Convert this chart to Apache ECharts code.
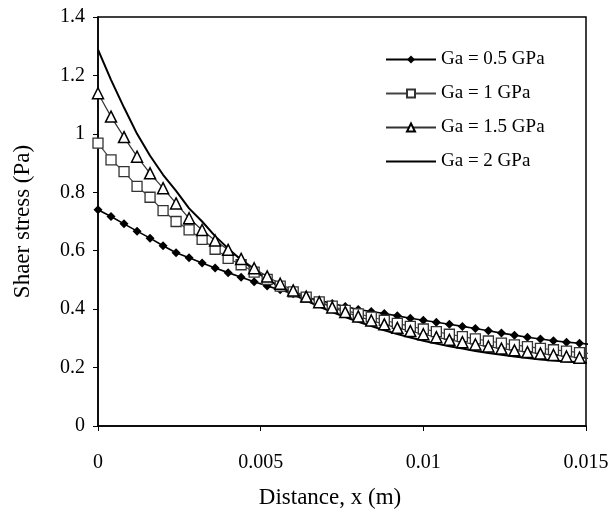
<!DOCTYPE html>
<html>
<head>
<meta charset="utf-8">
<script src="https://cdn.jsdelivr.net/npm/echarts@6/dist/echarts.min.js"></script>
<style>html,body{margin:0;padding:0;background:#fff}#c{width:612px;height:523px}</style>
</head>
<body>
<div id="c"></div>
<script>
var distance = [0, 0.0004, 0.0008, 0.0012, 0.0016, 0.002, 0.0024, 0.0028, 0.0032, 0.0036,
  0.004, 0.0044, 0.0048, 0.0052, 0.0056, 0.006, 0.0064, 0.0068, 0.0072, 0.0076,
  0.008, 0.0084, 0.0088, 0.0092, 0.0096, 0.01, 0.0104, 0.0108, 0.0112, 0.0116,
  0.012, 0.0124, 0.0128, 0.0132, 0.0136, 0.014, 0.0144, 0.0148, 0.0152];

var ga05 = [0.740, 0.717, 0.692, 0.667, 0.643, 0.617, 0.593, 0.576, 0.558, 0.541,
  0.525, 0.509, 0.494, 0.479, 0.466, 0.453, 0.441, 0.430, 0.419, 0.409,
  0.399, 0.392, 0.385, 0.377, 0.369, 0.362, 0.355, 0.348, 0.341, 0.334,
  0.326, 0.318, 0.311, 0.304, 0.298, 0.292, 0.287, 0.283, 0.279];

var ga1 = [0.968, 0.911, 0.871, 0.820, 0.783, 0.737, 0.700, 0.671, 0.639, 0.605,
  0.574, 0.552, 0.527, 0.502, 0.479, 0.459, 0.441, 0.425, 0.410, 0.396,
  0.384, 0.373, 0.362, 0.351, 0.341, 0.332, 0.323, 0.314, 0.306, 0.298,
  0.291, 0.284, 0.278, 0.272, 0.266, 0.261, 0.256, 0.251, 0.247];

var ga15 = [1.139, 1.059, 0.989, 0.922, 0.865, 0.814, 0.762, 0.711, 0.671, 0.635,
  0.603, 0.572, 0.540, 0.512, 0.487, 0.464, 0.443, 0.424, 0.406, 0.390,
  0.375, 0.361, 0.348, 0.336, 0.325, 0.314, 0.304, 0.295, 0.287, 0.279,
  0.272, 0.265, 0.259, 0.253, 0.248, 0.243, 0.238, 0.234, 0.230];

var ga2 = [1.288, 1.185, 1.090, 1.000, 0.925, 0.860, 0.805, 0.745, 0.700, 0.650,
  0.608, 0.568, 0.535, 0.503, 0.475, 0.451, 0.429, 0.409, 0.390, 0.373,
  0.357, 0.342, 0.328, 0.315, 0.303, 0.292, 0.282, 0.273, 0.265, 0.257,
  0.250, 0.244, 0.238, 0.233, 0.228, 0.224, 0.221, 0.218, 0.215];

var seriesNames = ['Ga = 0.5 GPa', 'Ga = 1 GPa', 'Ga = 1.5 GPa', 'Ga = 2 GPa'];
var xTicks = [0, 0.005, 0.01, 0.015];

function pairs(ys) { return distance.map(function (x, i) { return [x, ys[i]]; }); }

var font = '"Liberation Serif", "Times New Roman", serif';
var chart = echarts.init(document.getElementById('c'), null, {renderer: 'canvas'});
chart.setOption({
  animation: false,
  backgroundColor: '#fff',
  grid: {left: 98, right: 26, top: 17, bottom: 97, show: true, borderColor: '#000', borderWidth: 1.5, backgroundColor: 'transparent'},
  legend: {
    orient: 'vertical', left: 380, top: 45, itemWidth: 50, itemHeight: 10, itemGap: 15,
    textStyle: {fontFamily: font, fontSize: 19, color: '#000'},
    data: [
      {name: seriesNames[0]},
      {name: seriesNames[1]},
      {name: seriesNames[2]},
      {name: seriesNames[3], itemStyle: {color: 'rgba(0,0,0,0)', borderColor: 'rgba(0,0,0,0)', borderWidth: 0}}
    ]
  },
  xAxis: {
    type: 'value', min: 0, max: 0.015, interval: 0.005,
    name: 'Distance, x (m)', nameLocation: 'middle', nameGap: 60,
    nameTextStyle: {fontFamily: font, fontSize: 23, color: '#000', padding: [0, 24, 0, 0]},
    axisLine: {lineStyle: {color: '#000', width: 1.5}},
    axisTick: {show: true, length: 5, lineStyle: {color: '#000'}},
    axisLabel: {fontFamily: font, fontSize: 20, color: '#000', margin: 27,
      formatter: function (v) { var m = xTicks.filter(function (t) { return Math.abs(t - v) < 1e-9; }); return m.length ? String(m[0]) : ''; }},
    splitLine: {show: false}
  },
  yAxis: {
    type: 'value', min: 0, max: 1.4, interval: 0.2,
    name: 'Shaer stress (Pa)', nameLocation: 'middle', nameGap: 64,
    nameTextStyle: {fontFamily: font, fontSize: 23, color: '#000'},
    axisLine: {show: true, lineStyle: {color: '#000', width: 1.5}},
    axisTick: {show: true, length: 5, lineStyle: {color: '#000'}},
    axisLabel: {fontFamily: font, fontSize: 20, color: '#000', margin: 13,
      formatter: function (v) { return String(Math.round(v * 10) / 10); }},
    splitLine: {show: false}
  },
  series: [
    {name: seriesNames[0], type: 'line', data: pairs(ga05), symbol: 'diamond', symbolSize: 9,
      itemStyle: {color: '#000'}, lineStyle: {color: '#000', width: 1.6}},
    {name: seriesNames[1], type: 'line', data: pairs(ga1), symbol: 'rect', symbolSize: 10,
      itemStyle: {color: '#fff', borderColor: '#333', borderWidth: 1.3}, lineStyle: {color: '#444', width: 1.2}},
    {name: seriesNames[2], type: 'line', data: pairs(ga15), symbol: 'triangle', symbolSize: 11,
      itemStyle: {color: '#fff', borderColor: '#000', borderWidth: 1.5}, lineStyle: {color: '#333', width: 1.2}},
    {name: seriesNames[3], type: 'line', data: pairs(ga2), symbol: 'none', showSymbol: false,
      itemStyle: {color: '#000'}, lineStyle: {color: '#000', width: 2}}
  ]
});
</script>
</body>
</html>
